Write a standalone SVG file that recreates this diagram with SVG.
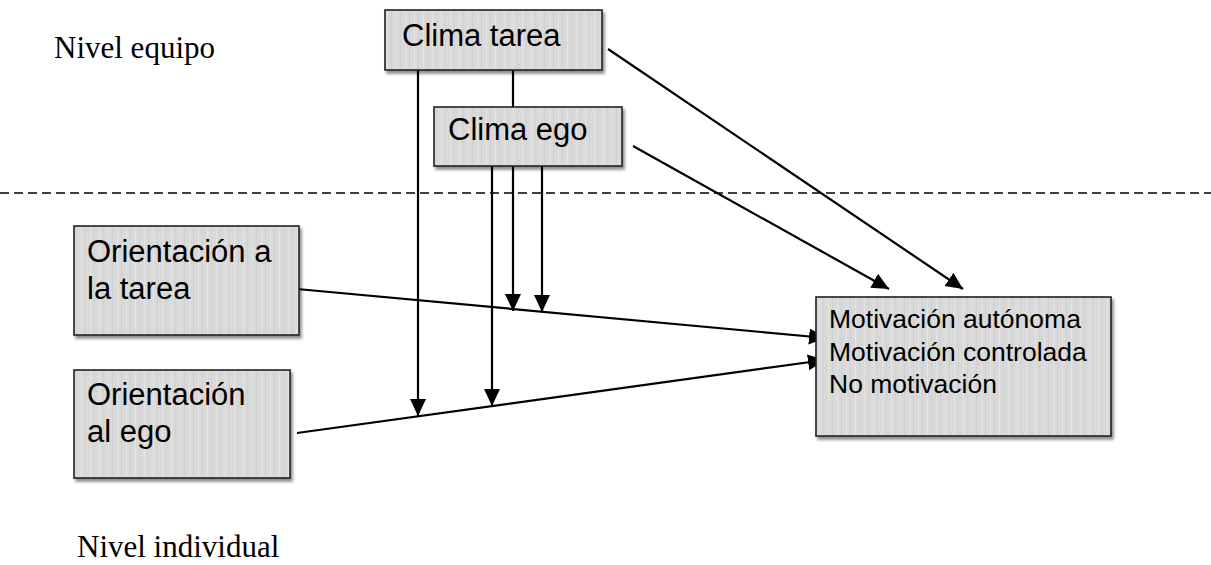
<svg xmlns="http://www.w3.org/2000/svg" width="1211" height="565" viewBox="0 0 1211 565">
<style>
.box{fill:url(#stripes);stroke:#222;stroke-width:1.6;filter:url(#sh)}
.sans{font-family:"Liberation Sans",Arial,sans-serif;fill:#000}
.serif{font-family:"Liberation Serif","Times New Roman",serif;font-size:31px;fill:#000}
.conn{stroke:#000;stroke-width:2.2;fill:none}
.arr{marker-end:url(#ah)}
</style>
<defs>
<pattern id="stripes" patternUnits="userSpaceOnUse" width="9" height="10">
<rect width="9" height="10" fill="#d9d9d9"/>
<rect x="0" width="1" height="10" fill="#e4e4e4"/>
<rect x="4" width="1" height="10" fill="#d1d1d1"/>
</pattern>
<filter id="sh" x="-10%" y="-10%" width="125%" height="135%">
<feDropShadow dx="2" dy="3" stdDeviation="1.6" flood-color="#000" flood-opacity="0.45"/>
</filter>
<marker id="ah" markerUnits="userSpaceOnUse" markerWidth="20" markerHeight="20" refX="17" refY="8" orient="auto">
<path d="M0,0 L17,8 L0,16 Z" fill="#000"/>
</marker>
</defs>
<rect width="1211" height="565" fill="#fff"/>
<text class="serif" x="54" y="58">Nivel equipo</text>
<text class="serif" x="77" y="557">Nivel individual</text>
<line x1="0" y1="193" x2="1211" y2="193" stroke="#000" stroke-width="1.6" stroke-dasharray="9,5"/>
<g id="connectors">
<line class="conn arr" x1="418" y1="70" x2="418" y2="416"/>
<line class="conn" x1="513" y1="70" x2="513" y2="107"/>
<line class="conn arr" x1="492" y1="166" x2="492" y2="406"/>
<line class="conn arr" x1="513" y1="166" x2="513" y2="311"/>
<line class="conn arr" x1="542" y1="166" x2="542" y2="312"/>
<line class="conn arr" x1="297" y1="289" x2="826" y2="338"/>
<line class="conn arr" x1="297" y1="433" x2="825" y2="360"/>
<line class="conn arr" x1="633" y1="146" x2="889" y2="289"/>
<line class="conn arr" x1="608" y1="49" x2="963" y2="289"/>
</g>
<g id="clima-tarea">
<rect class="box" x="385" y="10" width="217" height="60"/>
<text class="sans" x="402" y="46" font-size="31">Clima tarea</text>
</g>
<g id="clima-ego">
<rect class="box" x="434" y="107" width="188" height="59"/>
<text class="sans" x="448" y="140" font-size="31">Clima ego</text>
</g>
<g id="orientacion-tarea">
<rect class="box" x="74" y="226" width="225" height="109"/>
<text class="sans" x="87" y="262" font-size="31">Orientación a</text>
<text class="sans" x="87" y="299" font-size="31">la tarea</text>
</g>
<g id="orientacion-ego">
<rect class="box" x="74" y="370" width="216" height="108"/>
<text class="sans" x="87" y="405" font-size="31">Orientación</text>
<text class="sans" x="87" y="442" font-size="31">al ego</text>
</g>
<g id="motivacion">
<rect class="box" x="816" y="297" width="295" height="139"/>
<text class="sans" x="829" y="328" font-size="26.5">Motivación autónoma</text>
<text class="sans" x="829" y="361" font-size="26.5">Motivación controlada</text>
<text class="sans" x="829" y="393" font-size="26.5">No motivación</text>
</g>
</svg>
